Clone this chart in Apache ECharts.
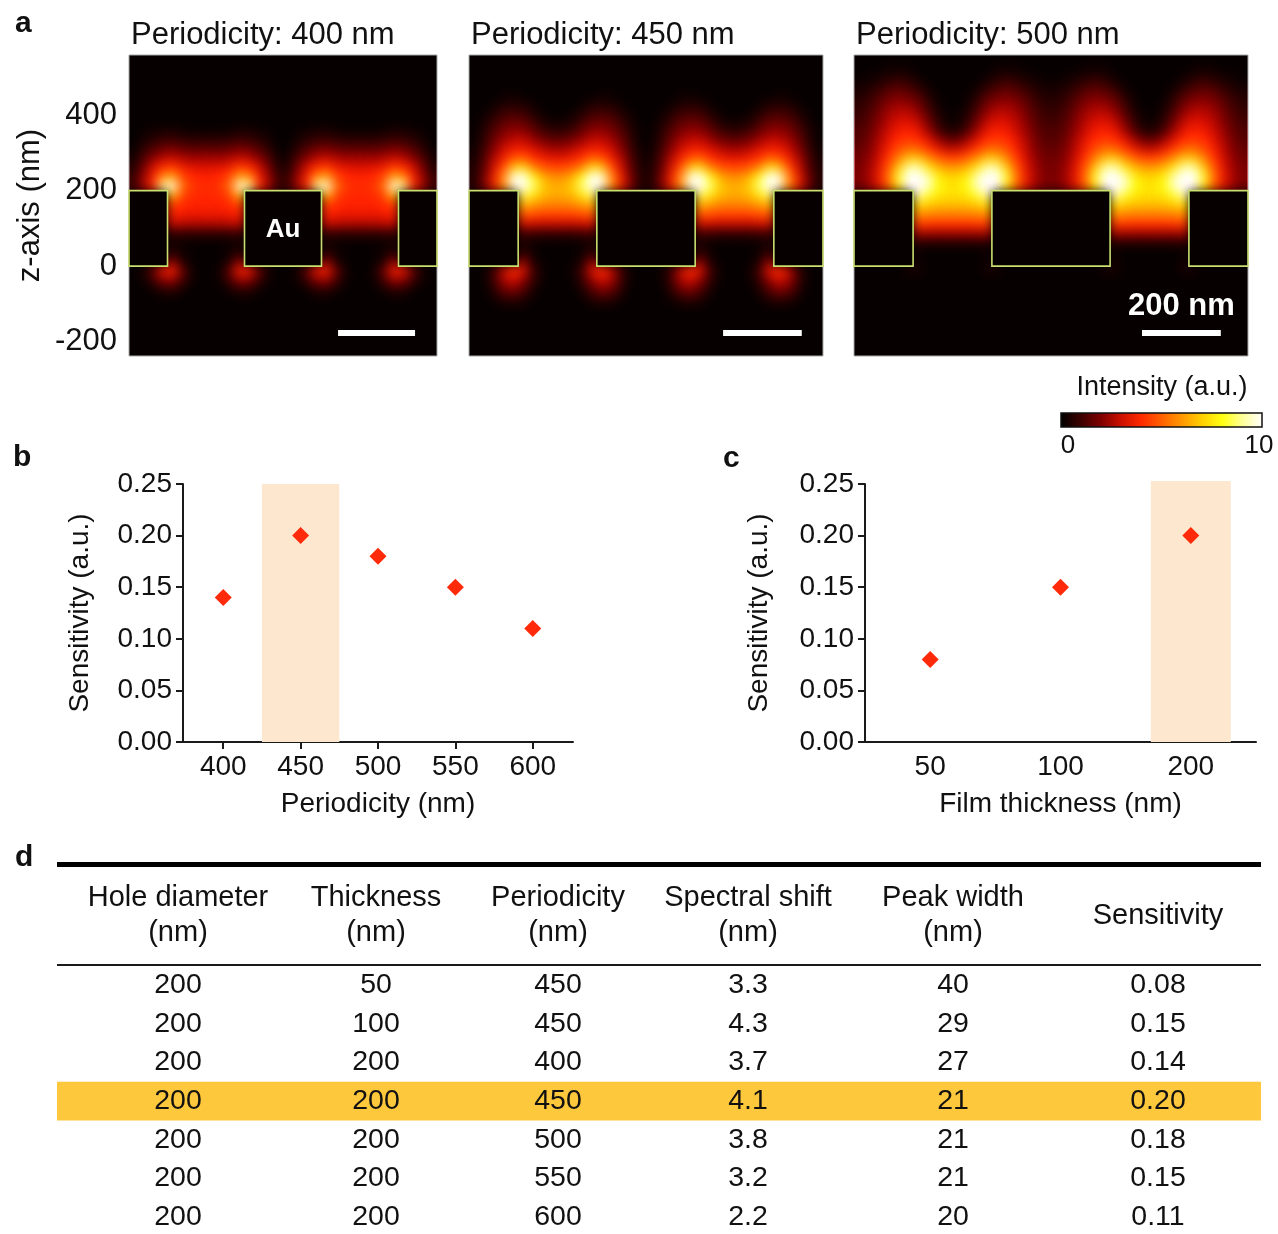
<!DOCTYPE html>
<html>
<head>
<meta charset="utf-8">
<script src="https://cdn.jsdelivr.net/npm/echarts@6/dist/echarts.min.js"></script>
<style>
html,body{margin:0;padding:0;background:#ffffff;}
#chart{width:1278px;height:1234px;}
</style>
</head>
<body>
<div id="chart"></div>
<script>
// ---------------- DATA ----------------
// Panel a: structure (nm)
const periods = [400, 450, 500];
const holeDiameter = 200;
const filmThickness = 200;
const scaleBarLength = 200;

// Rows go from z = 525..550 nm (first row) downwards in 25 nm steps.
// Columns go from the hole centre (0-25 nm) outwards to the Au block centre (half a period).
const field400 = [
  [0,0,0,0,0,0,0,0],
  [0,0,0,0,0,0,0,0],
  [0,0,0,0,0,0,0,0],
  [0,0,0,0,0,0,0,0],
  [0,0,0,0,0,0,0,0],
  [0,0,0,0,0,0,0,0],
  [0,0,0,0,0,0,0,0],
  [0.1,0.1,0.2,0.3,0.3,0.2,0.1,0],
  [0.6,0.6,0.7,0.9,0.8,0.6,0.3,0],
  [1.4,1.4,1.5,1.8,1.6,1.2,0.7,0.1],
  [2.3,2.3,2.5,2.8,2.6,2.0,1.2,0.3],
  [3.2,3.3,3.6,4.3,4.0,3.0,1.8,0.5],
  [3.8,4.0,4.6,6.4,5.8,3.7,2.3,0.8],
  [4.1,4.3,5.4,10,9.0,4.1,2.5,0.9],
  [4.0,4.1,4.6,6.8,0,0,0,0],
  [3.8,3.8,4.0,4.4,0,0,0,0],
  [3.5,3.5,3.6,3.8,0,0,0,0],
  [2.6,2.6,2.7,2.9,0,0,0,0],
  [0.7,0.7,0.7,0.8,0,0,0,0],
  [0.1,0.1,0.2,0.3,0,0,0,0],
  [0,0.1,0.2,0.6,0,0,0,0],
  [0,0.1,0.5,2.2,0,0,0,0],
  [0,0.3,1.6,3.8,3.5,1.5,0.3,0],
  [0,0.2,1.1,2.2,2.0,0.9,0.2,0],
  [0,0,0.3,0.7,0.6,0.2,0,0],
  [0,0,0,0.1,0.1,0,0,0],
  [0,0,0,0,0,0,0,0]
];
const field450 = [
  [0,0,0,0,0,0,0,0,0],
  [0,0,0,0,0,0,0,0,0],
  [0,0,0,0,0,0,0,0,0],
  [0,0,0,0,0.1,0.1,0,0,0],
  [0,0,0.1,0.3,0.4,0.3,0.1,0,0],
  [0,0.1,0.4,0.8,0.9,0.8,0.4,0.1,0],
  [0.2,0.4,0.9,1.4,1.5,1.3,0.8,0.3,0],
  [0.6,0.9,1.5,2.0,2.1,1.8,1.2,0.5,0.1],
  [1.4,1.7,2.2,2.7,2.7,2.3,1.6,0.7,0.1],
  [2.3,2.6,3.1,3.6,3.5,2.9,2.0,0.9,0.2],
  [3.3,3.6,4.1,4.8,4.6,3.6,2.5,1.2,0.3],
  [4.5,4.8,5.6,7.4,6.8,4.6,3.0,1.4,0.4],
  [5.8,6.4,8.0,10,9.6,5.8,3.5,1.7,0.5],
  [6.4,7.0,8.8,10,9.6,5.8,3.6,1.8,0.5],
  [6.3,6.6,7.5,8.6,0,0,0,0,0],
  [5.6,5.7,6.0,6.5,0,0,0,0,0],
  [4.5,4.5,4.7,4.9,0,0,0,0,0],
  [2.9,2.9,3.0,3.1,0,0,0,0,0],
  [0.8,0.8,0.9,1.0,0,0,0,0,0],
  [0.1,0.1,0.2,0.4,0,0,0,0,0],
  [0,0,0.2,0.7,0,0,0,0,0],
  [0,0.1,0.4,2.2,0,0,0,0,0],
  [0,0.2,1.0,3.2,4.2,2.8,0.9,0.1,0],
  [0,0.1,0.8,2.1,3.0,2.4,0.9,0.1,0],
  [0,0,0.4,1.3,1.9,1.6,0.6,0,0],
  [0,0,0.1,0.5,0.8,0.6,0.2,0,0],
  [0,0,0,0.1,0.1,0.1,0,0,0]
];
const field500 = [
  [0,0,0,0,0.1,0.1,0.1,0,0,0],
  [0,0,0,0.1,0.3,0.4,0.3,0.2,0.1,0],
  [0,0,0.1,0.4,0.8,1.0,0.8,0.5,0.3,0.2],
  [0,0.1,0.4,1.0,1.4,1.6,1.4,1.0,0.6,0.4],
  [0,0.2,0.8,1.6,2.0,2.1,1.9,1.4,0.9,0.6],
  [0.1,0.4,1.2,2.1,2.6,2.6,2.3,1.7,1.1,0.8],
  [0.2,0.7,1.7,2.7,3.1,3.0,2.6,2.0,1.3,1.0],
  [0.4,1.1,2.3,3.3,3.7,3.5,2.9,2.2,1.5,1.2],
  [1.4,2.2,3.2,4.0,4.3,4.0,3.3,2.5,1.7,1.3],
  [2.7,3.4,4.2,5.0,5.1,4.6,3.7,2.7,1.9,1.5],
  [4.4,4.9,5.8,6.8,6.7,5.6,4.2,3.0,2.1,1.7],
  [6.0,6.5,7.6,9.2,9.0,6.9,4.8,3.3,2.3,1.8],
  [7.1,7.7,9.3,10,10,8.2,5.3,3.5,2.4,1.9],
  [7.4,8.0,9.6,10,10,7.6,5.0,3.4,2.3,1.8],
  [7.3,7.5,8.2,9.3,0,0,0,0,0,0],
  [6.6,6.7,6.9,7.4,0,0,0,0,0,0],
  [5.6,5.6,5.7,5.9,0,0,0,0,0,0],
  [4.2,4.2,4.3,4.4,0,0,0,0,0,0],
  [2.4,2.4,2.4,2.5,0,0,0,0,0,0],
  [0.5,0.5,0.5,0.6,0,0,0,0,0,0],
  [0,0,0,0.1,0,0,0,0,0,0],
  [0,0,0,0.3,0,0,0,0,0,0],
  [0,0,0,0.3,0.3,0,0,0,0,0]
];
const fields = [field400, field450, field500];
const zTickValues = [-200, 0, 200, 400];
const intensityRange = [0, 10];
const intensityColors = ['#000000','#3c0000','#7e0000','#cc1000','#ff2a00','#ff6000','#ff9800','#ffd000','#ffff10','#ffff9a','#ffffff'];

// Panel b: sensitivity vs periodicity
const periodicityValues = [400, 450, 500, 550, 600];
const sensitivityVsPeriodicity = [0.14, 0.20, 0.18, 0.15, 0.11];
const highlightPeriodicity = [425, 475];
// Panel c: sensitivity vs film thickness
const thicknessCategories = ['50', '100', '200'];
const sensitivityVsThickness = [0.08, 0.15, 0.20];
const highlightThickness = '200';
const sensitivityTicks = [0, 0.25, 0.05];

// Panel d: table
const tableHeaders = [['Hole diameter','(nm)'],['Thickness','(nm)'],['Periodicity','(nm)'],['Spectral shift','(nm)'],['Peak width','(nm)'],['Sensitivity']];
const colHoleDiameter = [200, 200, 200, 200, 200, 200, 200];
const colThickness = [50, 100, 200, 200, 200, 200, 200];
const colPeriodicity = [450, 450, 400, 450, 500, 550, 600];
const colSpectralShift = [3.3, 4.3, 3.7, 4.1, 3.8, 3.2, 2.2];
const colPeakWidth = [40, 29, 27, 21, 21, 21, 20];
const colSensitivity = [0.08, 0.15, 0.14, 0.20, 0.18, 0.15, 0.11];
const highlightRow = 3;

// ---------------- LAYOUT ----------------
const FONT = "'Liberation Sans', Arial, Helvetica, sans-serif";
const INK = '#111111';
const CELL = 25, FIELD_TOP = 525;
const Z_MIN = -238, Z_MAX = 559;
const panelBoxes = [{left:129, width:308}, {left:469, width:354}, {left:854, width:394}];
const PANEL_TOP = 55, PANEL_H = 301;
const scaleBarStart = [543, 646, 731];
const SCALE_Z = -177;
const BLUR = 11, SHIFT = 4000;

function buildCells(P, rows) {
  const out = [];
  for (let r = 0; r < rows.length; r++) {
    const z0 = FIELD_TOP - r * CELL;
    for (let x0 = -3 * CELL; x0 < 2 * P + 3 * CELL; x0 += CELL) {
      const xc = x0 + CELL / 2;
      let d = ((xc - P / 2) % P + P) % P;
      if (d > P / 2) d = P - d;
      const j = Math.min(Math.floor(d / CELL), rows[r].length - 1);
      const v = rows[r][j];
      if (v > 0) out.push([x0, z0, v]);
    }
  }
  return out;
}
function blocksFor(P) {
  const h = holeDiameter / 2;
  return [[0, P / 2 - h], [P / 2 + h, 1.5 * P - h], [1.5 * P + h, 2 * P]];
}

function heatRender(params, api) {
  const x0 = api.value(0), z0 = api.value(1);
  const a = api.coord([x0, z0 + CELL]);
  const b = api.coord([x0 + CELL, z0]);
  const c = api.visual('color');
  return {
    type: 'rect', silent: true,
    shape: { x: a[0] - SHIFT, y: a[1], width: b[0] - a[0], height: b[1] - a[1] },
    style: { fill: c, shadowColor: c, shadowBlur: BLUR, shadowOffsetX: SHIFT, shadowOffsetY: 0, blend: 'lighter' }
  };
}
function blockRender(panel) {
  return function (params, api) {
    const a = api.coord([api.value(0), filmThickness]);
    const b = api.coord([api.value(1), 0]);
    const children = [{
      type: 'rect',
      shape: { x: a[0], y: a[1], width: b[0] - a[0], height: b[1] - a[1] },
      style: { fill: '#060000', stroke: '#c9df6f', lineWidth: 1.6 }
    }];
    if (panel === 0 && params.dataIndex === 1) {
      children.push({
        type: 'text',
        style: { text: 'Au', x: (a[0] + b[0]) / 2, y: (a[1] + b[1]) / 2 + 1, fill: '#ffffff',
                 font: 'bold 26px ' + FONT, align: 'center', verticalAlign: 'middle',
                 textAlign: 'center', textVerticalAlign: 'middle' }
      });
    }
    return { type: 'group', children: children };
  };
}
function scaleRender(panel) {
  return function (params, api) {
    const x0 = api.value(0), z = api.value(1);
    const a = api.coord([x0, z + 8]);
    const b = api.coord([x0 + scaleBarLength, z - 8]);
    const children = [{ type: 'rect', shape: { x: a[0], y: a[1], width: b[0] - a[0], height: b[1] - a[1] }, style: { fill: '#ffffff' } }];
    if (panel === 2) {
      children.push({
        type: 'text',
        style: { text: scaleBarLength + ' nm', x: (a[0] + b[0]) / 2, y: a[1] - 23, fill: '#ffffff',
                 font: 'bold 31px ' + FONT, align: 'center', verticalAlign: 'middle',
                 textAlign: 'center', textVerticalAlign: 'middle' }
      });
    }
    return { type: 'group', children: children };
  };
}

const grids = [], xAxes = [], yAxes = [], series = [];
const axisLineStyle = { color: '#1a1a1a', width: 2 };

periods.forEach(function (P, i) {
  grids.push({ left: panelBoxes[i].left, top: PANEL_TOP, width: panelBoxes[i].width, height: PANEL_H,
               show: true, backgroundColor: '#060000', borderColor: '#a8a8a8', borderWidth: 1 });
  xAxes.push({ type: 'value', gridIndex: i, min: 0, max: 2 * P, show: false });
  if (i === 0) {
    yAxes.push({ type: 'value', gridIndex: 0, min: Z_MIN, max: Z_MAX,
      axisLine: { show: false }, axisTick: { show: false }, splitLine: { show: false },
      axisLabel: { customValues: zTickValues, fontSize: 31, color: INK, margin: 12, fontFamily: FONT },
      name: 'z-axis (nm)', nameLocation: 'middle', nameGap: 83,
      nameTextStyle: { fontSize: 31, color: INK, fontFamily: FONT } });
  } else {
    yAxes.push({ type: 'value', gridIndex: i, min: Z_MIN, max: Z_MAX, show: false });
  }
});
periods.forEach(function (P, i) {
  series.push({ type: 'custom', name: 'field ' + P, xAxisIndex: i, yAxisIndex: i, clip: true, silent: true,
                blendMode: 'lighter', animation: false, z: 1, renderItem: heatRender, data: buildCells(P, fields[i]) });
});
periods.forEach(function (P, i) {
  series.push({ type: 'custom', name: 'Au ' + P, xAxisIndex: i, yAxisIndex: i, silent: true, animation: false, z: 3,
                renderItem: blockRender(i), data: blocksFor(P) });
});
periods.forEach(function (P, i) {
  series.push({ type: 'custom', name: 'scale ' + P, xAxisIndex: i, yAxisIndex: i, silent: true, animation: false, z: 4,
                renderItem: scaleRender(i), data: [[scaleBarStart[i], SCALE_Z]] });
});

// panel b
grids.push({ left: 183, top: 484, width: 390, height: 258 });
xAxes.push({ type: 'value', gridIndex: 3, min: 374, max: 626,
  axisLine: { lineStyle: axisLineStyle }, splitLine: { show: false },
  axisTick: { customValues: periodicityValues, length: 7, lineStyle: axisLineStyle },
  axisLabel: { customValues: periodicityValues, fontSize: 28, color: INK, margin: 11, fontFamily: FONT },
  name: 'Periodicity (nm)', nameLocation: 'middle', nameGap: 48,
  nameTextStyle: { fontSize: 28, color: INK, fontFamily: FONT } });
yAxes.push({ type: 'value', gridIndex: 3, min: sensitivityTicks[0], max: sensitivityTicks[1], interval: sensitivityTicks[2],
  axisLine: { show: true, lineStyle: axisLineStyle }, splitLine: { show: false },
  axisTick: { show: true, length: 7, lineStyle: axisLineStyle },
  axisLabel: { formatter: function (v) { return v.toFixed(2); }, fontSize: 28, color: INK, margin: 11, fontFamily: FONT },
  name: 'Sensitivity (a.u.)', nameLocation: 'middle', nameGap: 89,
  nameTextStyle: { fontSize: 28, color: INK, fontFamily: FONT } });
series.push({ type: 'line', xAxisIndex: 3, yAxisIndex: 3, data: [], z: 1, silent: true,
  markArea: { silent: true, itemStyle: { color: '#fde8cf' },
    data: [[{ xAxis: highlightPeriodicity[0], yAxis: 0 }, { xAxis: highlightPeriodicity[1], yAxis: 0.253 }]] } });
series.push({ type: 'scatter', xAxisIndex: 3, yAxisIndex: 3, z: 5, symbol: 'diamond', symbolSize: 17,
  itemStyle: { color: '#ff2a0a', opacity: 1 },
  data: periodicityValues.map(function (p, k) { return [p, sensitivityVsPeriodicity[k]]; }) });

// panel c
grids.push({ left: 865, top: 484, width: 391, height: 258 });
xAxes.push({ type: 'category', gridIndex: 4, data: thicknessCategories,
  axisLine: { lineStyle: axisLineStyle },
  axisTick: { alignWithLabel: true, length: 7, lineStyle: axisLineStyle },
  axisLabel: { fontSize: 28, color: INK, margin: 11, fontFamily: FONT },
  name: 'Film thickness (nm)', nameLocation: 'middle', nameGap: 48,
  nameTextStyle: { fontSize: 28, color: INK, fontFamily: FONT } });
yAxes.push({ type: 'value', gridIndex: 4, min: sensitivityTicks[0], max: sensitivityTicks[1], interval: sensitivityTicks[2],
  axisLine: { show: true, lineStyle: axisLineStyle }, splitLine: { show: false },
  axisTick: { show: true, length: 7, lineStyle: axisLineStyle },
  axisLabel: { formatter: function (v) { return v.toFixed(2); }, fontSize: 28, color: INK, margin: 11, fontFamily: FONT },
  name: 'Sensitivity (a.u.)', nameLocation: 'middle', nameGap: 92,
  nameTextStyle: { fontSize: 28, color: INK, fontFamily: FONT } });
series.push({ type: 'bar', xAxisIndex: 4, yAxisIndex: 4, z: 1, silent: true, clip: false, barWidth: 80,
  itemStyle: { color: '#fde8cf' },
  data: thicknessCategories.map(function (t) { return t === highlightThickness ? 0.253 : '-'; }) });
series.push({ type: 'scatter', xAxisIndex: 4, yAxisIndex: 4, z: 5, symbol: 'diamond', symbolSize: 17,
  itemStyle: { color: '#ff2a0a', opacity: 1 }, data: sensitivityVsThickness });

// ---------------- GRAPHIC (labels, colour bar, table) ----------------
function txt(text, x, y, size, opts) {
  opts = opts || {};
  const align = opts.align || 'left';
  return { type: 'text', x: x, y: y, silent: true, z: 100,
    style: { text: text, font: (opts.weight || 'normal') + ' ' + size + 'px ' + FONT, fill: opts.fill || INK,
             align: align, textAlign: align, verticalAlign: 'middle', textVerticalAlign: 'middle' } };
}
const graphic = [];
graphic.push(txt('a', 15, 24, 30, { weight: 'bold' }));
graphic.push(txt('b', 13, 458, 30, { weight: 'bold' }));
graphic.push(txt('c', 723, 459, 30, { weight: 'bold' }));
graphic.push(txt('d', 15, 858, 30, { weight: 'bold' }));
periods.forEach(function (P, i) {
  graphic.push(txt('Periodicity: ' + P + ' nm', panelBoxes[i].left + 2, 35, 31));
});
// colour bar
graphic.push(txt('Intensity (a.u.)', 1162, 388, 27, { align: 'center' }));
graphic.push({ type: 'rect', silent: true, z: 100, shape: { x: 1061, y: 413, width: 201, height: 14 },
  style: { stroke: '#111', lineWidth: 1.5,
    fill: { type: 'linear', x: 0, y: 0, x2: 1, y2: 0,
      colorStops: intensityColors.map(function (c, k) { return { offset: k / (intensityColors.length - 1), color: c }; }) } } });
graphic.push(txt(String(intensityRange[0]), 1068, 446, 26, { align: 'center' }));
graphic.push(txt(String(intensityRange[1]), 1259, 446, 26, { align: 'center' }));

// table
const colX = [178, 376, 558, 748, 953, 1158];
const TBL_L = 57, TBL_W = 1204, ROW0 = 985, ROW_H = 38.7;
graphic.push({ type: 'rect', silent: true, z: 90, shape: { x: TBL_L, y: 862, width: TBL_W, height: 5 }, style: { fill: '#000' } });
graphic.push({ type: 'rect', silent: true, z: 90, shape: { x: TBL_L, y: 964, width: TBL_W, height: 2 }, style: { fill: '#1a1a1a' } });
graphic.push({ type: 'rect', silent: true, z: 90,
  shape: { x: TBL_L, y: ROW0 + highlightRow * ROW_H - ROW_H / 2, width: TBL_W, height: ROW_H },
  style: { fill: '#fec83d' } });
tableHeaders.forEach(function (h, k) {
  if (h.length === 2) {
    graphic.push(txt(h[0], colX[k], 898, 29, { align: 'center' }));
    graphic.push(txt(h[1], colX[k], 933, 29, { align: 'center' }));
  } else {
    graphic.push(txt(h[0], colX[k], 916, 29, { align: 'center' }));
  }
});
const tableCols = [
  colHoleDiameter.map(String), colThickness.map(String), colPeriodicity.map(String),
  colSpectralShift.map(function (v) { return v.toFixed(1); }), colPeakWidth.map(String),
  colSensitivity.map(function (v) { return v.toFixed(2); })
];
tableCols.forEach(function (col, k) {
  col.forEach(function (s, r) { graphic.push(txt(s, colX[k], ROW0 + r * ROW_H, 28.5, { align: 'center' })); });
});

const chart = echarts.init(document.getElementById('chart'), null, { renderer: 'canvas', devicePixelRatio: 1 });
chart.setOption({
  animation: false,
  backgroundColor: '#ffffff',
  textStyle: { fontFamily: FONT },
  visualMap: { type: 'continuous', show: false, seriesIndex: [0, 1, 2], dimension: 2,
               min: intensityRange[0], max: intensityRange[1], inRange: { color: intensityColors } },
  grid: grids, xAxis: xAxes, yAxis: yAxes, series: series, graphic: graphic
});
</script>
</body>
</html>
